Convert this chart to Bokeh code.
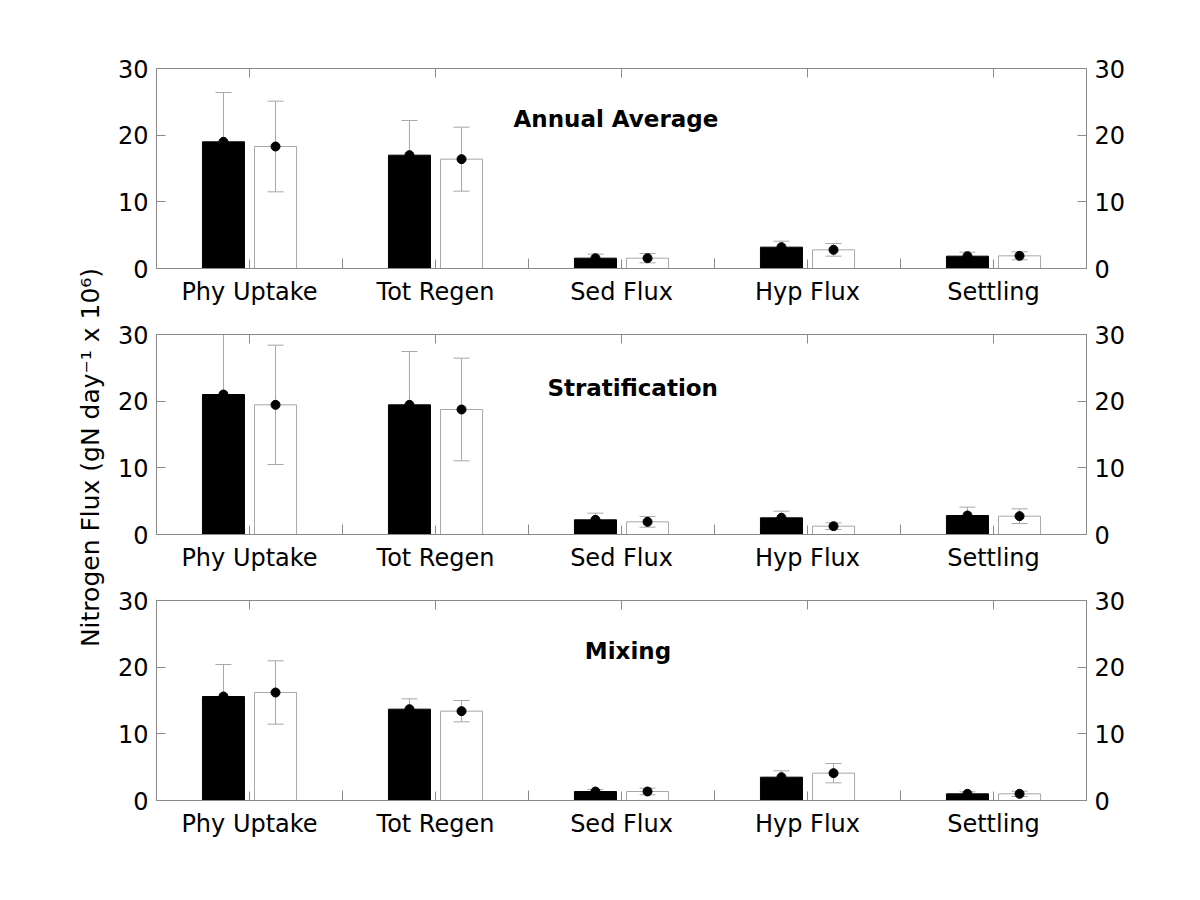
import numpy as np
from math import pi
from bokeh.plotting import figure
from bokeh.layouts import column, row
from bokeh.models import (ColumnDataSource, Whisker, TeeHead, FixedTicker,
                          LinearAxis, Range1d, Label)
from bokeh.embed import file_html
from bokeh.resources import INLINE

# ---------------- data ----------------
categories = ["Phy Uptake", "Tot Regen", "Sed Flux", "Hyp Flux", "Settling"]
panel_titles = ["Annual Average", "Stratification", "Mixing"]
y_ticks = [0, 10, 20, 30]
y_label = "Nitrogen Flux (gN day\u207b\u00b9 x 10\u2076)"

# black bars (series A) and white bars (series B): mean and error (+/-)
annual_a_mean = [19.0, 17.0, 1.55, 3.2, 1.85]
annual_a_err = [7.4, 5.2, 0.6, 0.9, 0.6]
annual_b_mean = [18.3, 16.4, 1.55, 2.8, 1.9]
annual_b_err = [6.8, 4.8, 0.7, 0.95, 0.6]

strat_a_mean = [21.0, 19.45, 2.2, 2.5, 2.85]
strat_a_err = [9.0, 8.0, 1.0, 1.0, 1.25]
strat_b_mean = [19.45, 18.75, 1.9, 1.25, 2.75]
strat_b_err = [8.95, 7.7, 0.8, 0.5, 1.1]

mix_a_mean = [15.6, 13.7, 1.35, 3.5, 1.0]
mix_a_err = [4.8, 1.55, 0.3, 0.95, 0.3]
mix_b_mean = [16.2, 13.4, 1.35, 4.1, 1.0]
mix_b_err = [4.75, 1.6, 0.5, 1.45, 0.4]

panels = [
    (annual_a_mean, annual_a_err, annual_b_mean, annual_b_err),
    (strat_a_mean, strat_a_err, strat_b_mean, strat_b_err),
    (mix_a_mean, mix_a_err, mix_b_mean, mix_b_err),
]

# ---------------- style ----------------
FONT = "DejaVu Sans"
GRAY = "#8a8a8a"
ERR = "#a8a8a8"
OFF = 0.14
BAR_W = 0.226
title_pos = [(1.97, 22.4), (2.06, 22.05), (2.035, 22.4)]
top_borders = [68, 20, 20]


def style_axis(ax, standoff):
    ax.axis_line_color = GRAY
    ax.major_tick_line_color = GRAY
    ax.minor_tick_line_color = GRAY
    ax.major_tick_in = 9
    ax.major_tick_out = 0
    ax.minor_tick_in = 10
    ax.minor_tick_out = 0
    ax.major_label_text_font = FONT
    ax.major_label_text_font_size = "24px"
    ax.major_label_text_color = "black"
    ax.major_label_standoff = standoff


def make_panel(k):
    am, ae, bm, be = [np.array(v, dtype=float) for v in panels[k]]
    idx = np.arange(len(categories))
    src = ColumnDataSource(dict(
        xa=idx - OFF, xb=idx + OFF,
        am=am, bm=bm,
        a_lo=am - ae, a_hi=am + ae,
        b_lo=bm - be, b_hi=bm + be,
    ))
    p = figure(frame_width=930, frame_height=200,
               x_range=Range1d(-0.5, len(categories) - 0.5),
               y_range=Range1d(0, 30),
               x_axis_location=None, y_axis_location=None,
               toolbar_location=None, output_backend="svg",
               min_border_left=50, min_border_right=60,
               min_border_top=top_borders[k], min_border_bottom=46)
    p.grid.visible = False
    p.outline_line_color = GRAY
    p.background_fill_color = "white"
    p.border_fill_color = "white"

    left = LinearAxis(ticker=FixedTicker(ticks=y_ticks))
    style_axis(left, 8)
    p.add_layout(left, "left")
    right = LinearAxis(ticker=FixedTicker(ticks=y_ticks))
    style_axis(right, 8)
    p.add_layout(right, "right")

    bottom = LinearAxis(ticker=FixedTicker(ticks=list(idx),
                                           minor_ticks=[i + 0.5 for i in idx[:-1]]),
                        major_label_overrides={int(i): c for i, c in zip(idx, categories)})
    style_axis(bottom, 9)
    p.add_layout(bottom, "below")

    top = LinearAxis(ticker=FixedTicker(ticks=list(idx)),
                     major_label_overrides={int(i): "" for i in idx})
    style_axis(top, 0)
    top.major_label_text_font_size = "6px"
    p.add_layout(top, "above")

    for base, lo, hi in (("xa", "a_lo", "a_hi"), ("xb", "b_lo", "b_hi")):
        w = Whisker(base=base, lower=lo, upper=hi, source=src,
                    line_color=ERR, line_width=1, level="underlay",
                    upper_head=TeeHead(size=16, line_color=ERR, line_width=1),
                    lower_head=TeeHead(size=16, line_color=ERR, line_width=1))
        p.add_layout(w)

    p.vbar(x="xa", top="am", bottom=0, width=BAR_W, source=src,
           fill_color="black", line_color="black")
    p.vbar(x="xb", top="bm", bottom=0, width=BAR_W, source=src,
           fill_color=None, line_color=ERR, line_width=1)
    p.scatter(x="xa", y="am", size=9, source=src, color="black")
    p.scatter(x="xb", y="bm", size=9, source=src, color="black")

    tx, ty = title_pos[k]
    p.add_layout(Label(x=tx, y=ty, text=panel_titles[k], text_font=FONT,
                       text_font_size="23px", text_font_style="bold",
                       text_align="center", text_baseline="middle",
                       text_color="black"))
    return p


plots = [make_panel(k) for k in range(3)]
total_h = sum(top_borders) + 3 * (200 + 46)

LW = 106
lab = figure(width=LW, height=total_h, x_range=Range1d(0, LW),
             y_range=Range1d(0, total_h), x_axis_location=None,
             y_axis_location=None, toolbar_location=None,
             output_backend="svg", min_border=0)
lab.grid.visible = False
lab.outline_line_color = None
lab.add_layout(Label(x=90, y=total_h - 457, text=y_label, angle=pi / 2,
                     text_font=FONT, text_font_size="25px",
                     text_align="center", text_baseline="middle",
                     text_color="black"))

layout = row(lab, column(*plots))
open("out.html", "w").write(file_html(layout, INLINE))
